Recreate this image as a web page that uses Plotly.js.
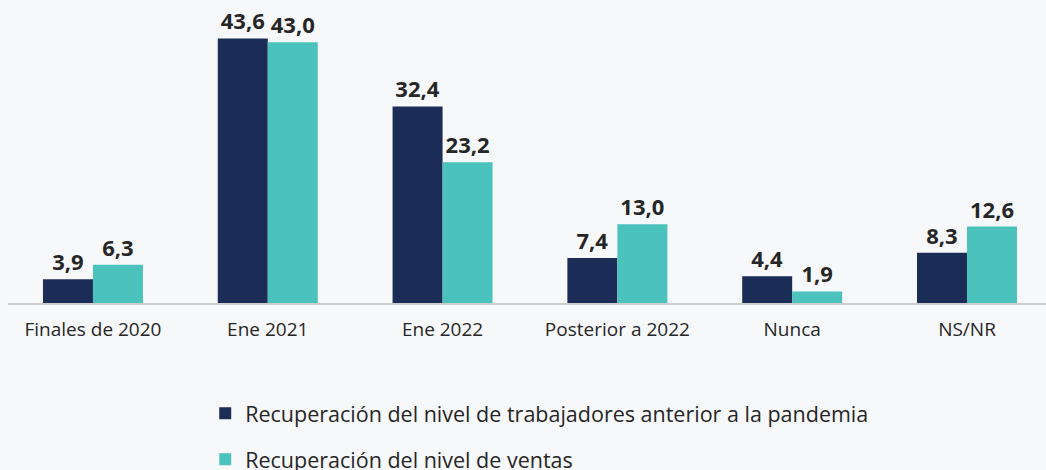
<!DOCTYPE html>
<html>
<head>
<meta charset="utf-8">
<script src="https://cdn.plot.ly/plotly-3.0.1.min.js"></script>
<style>
html,body{margin:0;padding:0;background:#f7f8fa;}
#chart{width:1046px;height:470px;}
</style>
</head>
<body>
<div id="chart"></div>
<script>
const categories = ["Finales de 2020", "Ene 2021", "Ene 2022", "Posterior a 2022", "Nunca", "NS/NR"];
const seriesNames = ["Recuperación del nivel de trabajadores anterior a la pandemia", "Recuperación del nivel de ventas"];
const trabajadores = [3.9, 43.6, 32.4, 7.4, 4.4, 8.3];
const ventas = [6.3, 43.0, 23.2, 13.0, 1.9, 12.6];

const fmt = v => v.toFixed(1).replace('.', ',');
const colors = ["#1b2d57", "#4cc2bd"];

function mk(name, vals, color, grp) {
  return {
    type: 'bar',
    name: name,
    legendgroup: grp,
    x: categories,
    y: vals,
    marker: {color: color, line: {color: color, width: 0}},
    text: vals.map(fmt),
    textposition: 'outside',
    cliponaxis: false,
    textfont: {family: '"Open Sans", "Noto Sans", sans-serif', size: 22, color: '#262626', weight: 700},
    hoverinfo: 'none'
  };
}

const data = [mk(seriesNames[0], trabajadores, colors[0], 'a'), mk(seriesNames[1], ventas, colors[1], 'b')];

const layout = {
  width: 1046, height: 470,
  paper_bgcolor: '#f7f8fa', plot_bgcolor: '#f7f8fa',
  margin: {l: 8, r: 0, t: 30, b: 167, autoexpand: false},
  barmode: 'group',
  bargap: 0.428,
  bargroupgap: 0,
  font: {family: '"Open Sans", "Noto Sans", sans-serif', color: '#262626'},
  xaxis: {
    type: 'category',
    range: [-0.486, 5.452],
    showline: true, linecolor: '#cccccc', linewidth: 2,
    ticks: '', showgrid: false, zeroline: false,
    tickfont: {size: 19, color: '#262626'},
    ticklabelstandoff: 8
  },
  yaxis: {
    range: [0, 45],
    visible: false, showgrid: false, zeroline: false
  },
  showlegend: true,
  legend: {
    orientation: 'v',
    traceorder: 'grouped',
    x: 0.19, xanchor: 'left',
    y: -0.329, yanchor: 'top',
    font: {size: 21.5, color: '#262626'},
    bgcolor: 'rgba(0,0,0,0)',
    tracegroupgap: 15,
    itemwidth: 30
  }
};

Plotly.newPlot('chart', data, layout, {displayModeBar: false, staticPlot: true});
</script>
</body>
</html>
